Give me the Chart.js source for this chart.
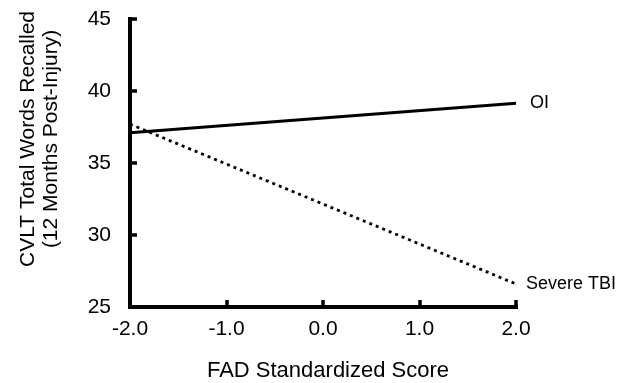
<!DOCTYPE html>
<html>
<head>
<meta charset="utf-8">
<script src="https://cdn.jsdelivr.net/npm/chart.js@4"></script>
<style>
  html, body { margin: 0; padding: 0; background: #fff; }
  #wrap { width: 628px; height: 383px; }
</style>
</head>
<body>
<div id="wrap"><canvas id="fadChart" width="628" height="383"></canvas></div>
<script>
const fadScores = [-2, 2];
const oiValues = [37.1, 39.15];
const tbiValues = [37.7, 26.6];
const seriesNames = ["OI", "Severe TBI"];
const yTicks = [25, 30, 35, 40, 45];
const xTicks = [-2, -1, 0, 1, 2];

const FONT = "'Liberation Sans', Arial, Helvetica, sans-serif";
const ctx = document.getElementById("fadChart").getContext("2d");

new Chart(ctx, {
  type: "line",
  data: {
    datasets: [
      {
        label: seriesNames[0],
        data: fadScores.map((x, i) => ({ x: x, y: oiValues[i] })),
        borderColor: "#000",
        borderWidth: 2.8,
        pointRadius: 0,
        clip: false,
      },
      {
        label: seriesNames[1],
        data: fadScores.map((x, i) => ({ x: x, y: tbiValues[i] })),
        borderColor: "#000",
        borderWidth: 2.8,
        borderDash: [3, 4],
        pointRadius: 0,
        clip: false,
      },
    ],
  },
  options: {
    responsive: false,
    animation: false,
    layout: { padding: { left: 0, right: 112, top: 19, bottom: 0 } },
    plugins: { legend: { display: false }, tooltip: { enabled: false } },
    scales: {
      x: {
        type: "linear",
        min: -2,
        max: 2,
        afterBuildTicks: (s) => { s.ticks = xTicks.map((v) => ({ value: v })); },
        afterFit: (s) => {
          s.height = 76;
          s.paddingLeft = 0;
          s.paddingRight = 0;
        },
        grid: { display: false, drawTicks: false },
        border: { display: false },
        ticks: {
          color: "#000",
          padding: 10,
          maxRotation: 0,
          font: { family: FONT, size: 21 },
          callback: (v) => Number(v).toFixed(1),
        },
      },
      y: {
        min: 25,
        max: 45,
        afterBuildTicks: (s) => { s.ticks = yTicks.map((v) => ({ value: v })); },
        afterFit: (s) => {
          s.width = 130;
          s.paddingTop = 0;
          s.paddingBottom = 0;
        },
        grid: { display: false, drawTicks: false },
        border: { display: false },
        ticks: {
          color: "#000",
          padding: 19,
          font: { family: FONT, size: 21 },
        },
      },
    },
  },
  plugins: [
    {
      id: "extras",
      afterDraw: (chart) => {
        const c = chart.ctx;
        const xs = chart.scales.x;
        const ys = chart.scales.y;
        const area = chart.chartArea;
        c.save();
        // axis lines with inward tick marks
        c.strokeStyle = "#000";
        c.lineWidth = 4;
        c.lineCap = "square";
        c.beginPath();
        c.moveTo(area.left, area.top);
        c.lineTo(area.left, area.bottom);
        c.lineTo(area.right, area.bottom);
        c.stroke();
        c.lineWidth = 3.5;
        c.lineCap = "butt";
        c.beginPath();
        yTicks.forEach((v) => {
          const py = Math.round(ys.getPixelForValue(v));
          c.moveTo(area.left, py);
          c.lineTo(area.left + 7, py);
        });
        xTicks.forEach((v) => {
          const px = Math.round(xs.getPixelForValue(v));
          c.moveTo(px, area.bottom);
          c.lineTo(px, area.bottom - 7);
        });
        c.stroke();

        // series labels at line ends
        c.fillStyle = "#000";
        c.font = "18px " + FONT;
        c.textBaseline = "middle";
        c.textAlign = "left";
        const lastX = fadScores[fadScores.length - 1];
        c.fillText(seriesNames[0], xs.getPixelForValue(lastX) + 14, ys.getPixelForValue(oiValues[oiValues.length - 1]));
        c.fillText(seriesNames[1], xs.getPixelForValue(lastX) + 10, ys.getPixelForValue(tbiValues[tbiValues.length - 1]));

        // axis titles
        c.font = "22px " + FONT;
        c.textAlign = "center";
        c.fillText("FAD Standardized Score", 328, 371);
        c.font = "21px " + FONT;
        c.translate(39, 139);
        c.rotate(-Math.PI / 2);
        c.fillText("CVLT Total Words Recalled", 0, -11);
        c.fillText("(12 Months Post-Injury)", 0, 12);
        c.restore();
      },
    },
  ],
});
</script>
</body>
</html>
